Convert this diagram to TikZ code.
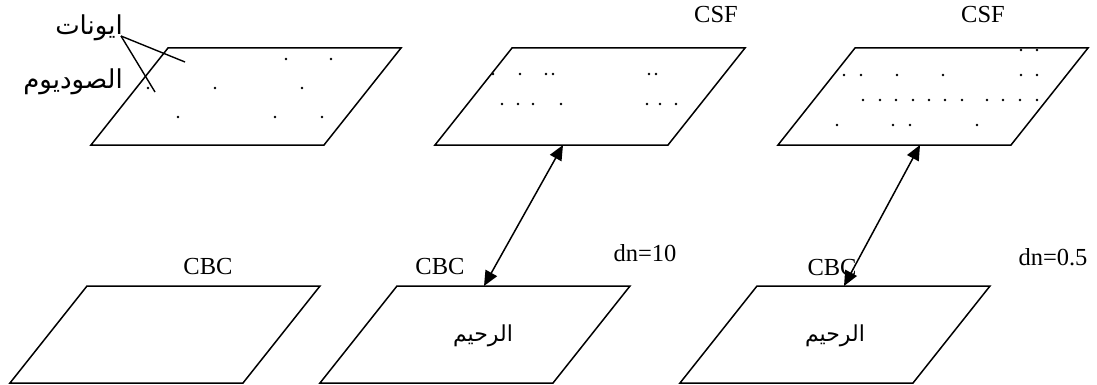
\documentclass[tikz,border=0pt]{standalone}
\usepackage{fontspec}
\setmainfont{Liberation Serif}
\newfontfamily\arabicfont[Script=Arabic]{DejaVu Sans}
\TeXXeTstate=1
\usetikzlibrary{arrows.meta}
\tikzset{
  sheet/.style={draw=black, line width=1.5pt, line join=miter},
  lbl/.style={inner sep=0pt, font=\fontsize{24.5}{29}\selectfont},
  arlbl/.style={inner sep=0pt, font=\arabicfont\fontsize{22}{26}\selectfont},
  bigar/.style={inner sep=0pt, font=\arabicfont\fontsize{26}{30}\selectfont},
  ion/.style={fill=black},
  link/.style={line width=1.5pt, {Triangle[length=15pt,width=13pt]}-{Triangle[length=15pt,width=13pt]}},
  pointer/.style={line width=1.4pt}
}
% one parallelogram sheet: #1 name, (#2,#3) top-left corner
\newcommand\sheetat[3]{%
  \coordinate (#1-tl) at (#2,#3);
  \coordinate (#1-tr) at (#2+233,#3);
  \coordinate (#1-br) at (#2+156,#3+97);
  \coordinate (#1-bl) at (#2-77,#3+97);
  \draw[sheet] (#1-tl) -- (#1-tr) -- (#1-br) -- (#1-bl) -- cycle;
}
\begin{document}
\begin{tikzpicture}[x=1pt,y=-1pt]
\useasboundingbox (0,0) rectangle (1097,385);

% upper row
\sheetat{pa}{168}{48}
\sheetat{pb}{512}{48}
\sheetat{pc}{855}{48}
% lower row
\sheetat{qa}{87}{286}
\sheetat{qb}{397}{286}
\sheetat{qc}{757}{286}

% sodium ions in each upper sheet
\foreach \p in {(286,59),(331,59),(148,88),(215,88),(302,88),(178,117),(275,117),(322,117)}
  \fill[ion] \p circle (1.4);
\foreach \p in {(493,74),(520,74),(546,74),(553,74),(649,74),(656,74),
                (502,104),(518,104),(533,104),(561,104),(647,104),(660,104),(676,104)}
  \fill[ion] \p circle (1.4);
\foreach \p in {(1021,50),(1037,50),
                (844,75),(861,75),(897,75),(943,75),(1021,75),(1037,75),
                (863,100),(880,100),(896,100),(913,100),(929,100),(945,100),(962,100),(987,100),(1003,100),(1020,100),(1037,100),
                (837,125),(893,125),(910,125),(977,125)}
  \fill[ion] \p circle (1.4);

% labels
\node[lbl] (csfb) at (716,15) {CSF};
\node[lbl] (csfc) at (983,15) {CSF};
\node[lbl] (cbca) at (208,267) {CBC};
\node[lbl] (cbcb) at (440,267) {CBC};
\node[lbl] (cbcc) at (832,268) {CBC};
\node[lbl] (dnb) at (645,253) {dn=10};
\node[lbl] (dnc) at (1053,257) {dn=0.5};

\node[bigar, anchor=east] (ions) at (123,28) {\beginR ايونات\endR};
\node[bigar, anchor=east] (sodium) at (123,82) {\beginR الصوديوم\endR};
\node[arlbl] (placb) at (483,336) {\beginR الرحيم\endR};
\node[arlbl] (placc) at (835,336) {\beginR الرحيم\endR};

% pointer lines from the Arabic labels into the first sheet
\coordinate (ptr) at (121,36);
\coordinate (ptr-a) at (185,62);
\coordinate (ptr-b) at (155,92);
\draw[pointer] (ptr) -- (ptr-a);
\draw[pointer] (ptr) -- (ptr-b);

% exchange between CSF sheets and CBC sheets
\coordinate (eb-top) at (563,145);
\coordinate (eb-bot) at (484,286);
\coordinate (ec-top) at (920,145);
\coordinate (ec-bot) at (844,286);
\draw[link] (eb-top) -- (eb-bot);
\draw[link] (ec-top) -- (ec-bot);
\end{tikzpicture}
\end{document}
